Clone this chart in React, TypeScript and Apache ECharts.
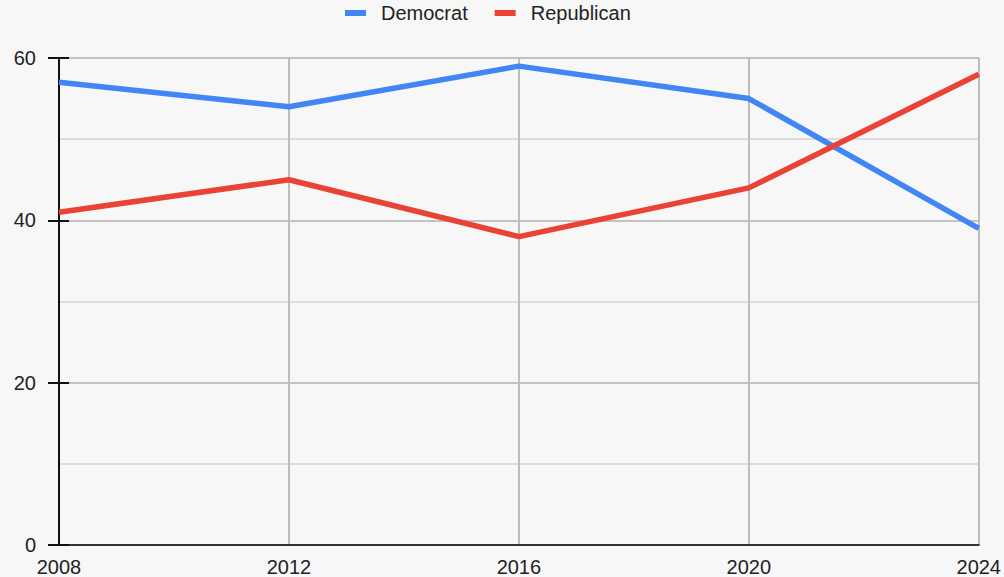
import React, { useEffect, useRef } from "react";
import * as echarts from "echarts";

const years = ["2008", "2012", "2016", "2020", "2024"];
const democrat = [57, 54, 59, 55, 39];
const republican = [41, 45, 38, 44, 58];
const seriesNames = ["Democrat", "Republican"];
const seriesColors = ["#4285F4", "#EA4335"];

export default function App() {
  const ref = useRef<HTMLDivElement>(null);
  useEffect(() => {
    if (!ref.current) return;
    const chart = echarts.init(ref.current, null, { renderer: "svg" });
    const font = "'Liberation Sans', Arial, sans-serif";
    chart.setOption({
      animation: false,
      backgroundColor: "#f7f7f7",
      textStyle: { fontFamily: font },
      legend: {
        left: 345,
        top: 3,
        padding: 0,
        itemWidth: 21,
        itemHeight: 6,
        itemGap: 27,
        icon: "rect",
        textStyle: { fontSize: 20, color: "#222", fontFamily: font, padding: [0, 0, 0, 10] },
        data: seriesNames,
      },
      grid: { left: 59, right: 25, top: 58, bottom: 32, containLabel: false },
      xAxis: {
        type: "category",
        data: years,
        boundaryGap: false,
        axisLine: { show: true, lineStyle: { color: "#333", width: 2 } },
        axisTick: { show: false },
        axisLabel: { fontSize: 20, color: "#222", margin: 12, fontFamily: font },
        splitLine: { show: true, lineStyle: { color: "#bdbdbd", width: 2 } },
      },
      yAxis: [
        {
          type: "value",
          min: 0,
          max: 60,
          interval: 20,
          axisLine: { show: true, lineStyle: { color: "#111", width: 2 } },
          axisTick: { show: true, length: 11, lineStyle: { color: "#111", width: 2 } },
          axisLabel: { fontSize: 20, color: "#222", margin: 23, fontFamily: font },
          splitLine: { show: true, lineStyle: { color: "#c2c2c2", width: 2 } },
          minorTick: { show: false, splitNumber: 2 },
          minorSplitLine: { show: true, lineStyle: { color: "#dcdcdc", width: 2 } },
        },
        {
          type: "value",
          position: "left",
          min: 0,
          max: 60,
          interval: 20,
          axisLine: { show: false },
          axisTick: { show: true, inside: true, length: 10, lineStyle: { color: "#111", width: 2 } },
          axisLabel: { show: false },
          splitLine: { show: false },
        },
      ],
      series: [
        {
          name: seriesNames[0],
          type: "line",
          data: democrat,
          showSymbol: false,
          symbol: "none",
          lineStyle: { width: 5.5, color: seriesColors[0] },
          itemStyle: { color: seriesColors[0] },
        },
        {
          name: seriesNames[1],
          type: "line",
          data: republican,
          showSymbol: false,
          symbol: "none",
          lineStyle: { width: 5.5, color: seriesColors[1] },
          itemStyle: { color: seriesColors[1] },
        },
      ],
    });
    return () => chart.dispose();
  }, []);
  return (
    <div
      ref={ref}
      style={{ position: "fixed", left: 0, top: 0, width: 1004, height: 577 }}
    />
  );
}
